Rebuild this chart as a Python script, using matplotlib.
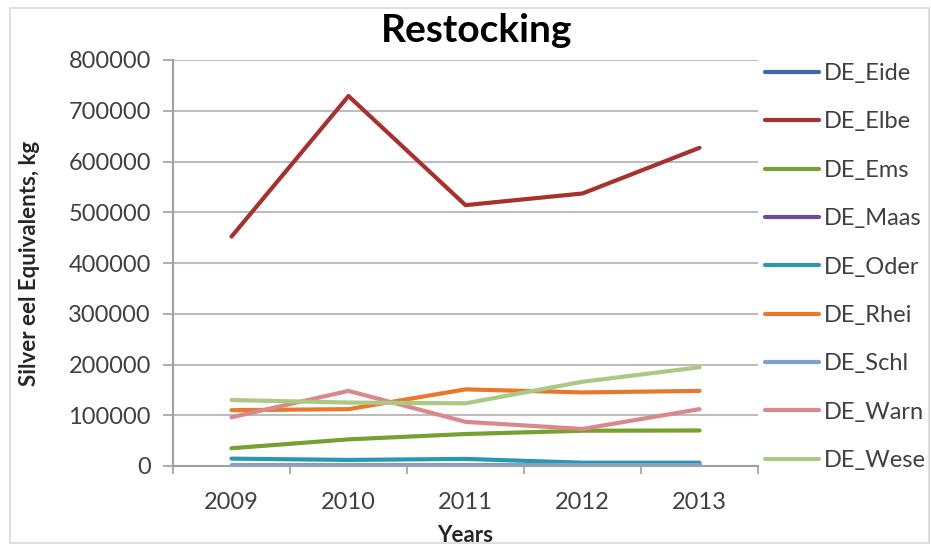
import matplotlib
matplotlib.use("Agg")
import matplotlib.pyplot as plt
from matplotlib.patches import Rectangle

years = ["2009", "2010", "2011", "2012", "2013"]
series_names = ["DE_Eide", "DE_Elbe", "DE_Ems", "DE_Maas", "DE_Oder",
                "DE_Rhei", "DE_Schl", "DE_Warn", "DE_Wese"]
de_eide = [500, 500, 500, 500, 500]
de_elbe = [452000, 729000, 514000, 537000, 627000]
de_ems = [35000, 52500, 63000, 69500, 70000]
de_maas = [300, 300, 300, 300, 300]
de_oder = [14500, 12000, 14000, 6500, 6500]
de_rhei = [110000, 112000, 151000, 145000, 148000]
de_schl = [1500, 1500, 1500, 1500, 1500]
de_warn = [96000, 148000, 87000, 73000, 112000]
de_wese = [130000, 125000, 123500, 166000, 194500]
yticks = [0, 100000, 200000, 300000, 400000, 500000, 600000, 700000, 800000]

colors = ["#3B68A8", "#A6312E", "#78A030", "#6A4C99", "#2A96B0",
          "#E8782A", "#7E9FD6", "#D9898C", "#A9C985"]
data = [de_eide, de_elbe, de_ems, de_maas, de_oder, de_rhei, de_schl, de_warn, de_wese]

plt.rcParams['font.family'] = ['Lato', 'DejaVu Sans']

W, H = 931, 545
fig = plt.figure(figsize=(W / 100, H / 100), dpi=100)
fig.patches.append(Rectangle((10 / W, 1 - 543 / H), 919 / W, 535 / H,
                             transform=fig.transFigure, fill=False,
                             edgecolor="#D9D9D9", linewidth=1.2))

ax = fig.add_axes([173 / W, 1 - 466 / H, 585 / W, 406 / H])
x = list(range(len(years)))
for name, vals, c in zip(series_names, data, colors):
    ax.plot(x, vals, color=c, linewidth=3, label=name, solid_capstyle='round')

ax.set_xlim(-0.5, len(years) - 0.5)
ax.set_ylim(0, 800000)
ax.set_yticks(yticks)
ax.set_yticklabels([str(v) for v in yticks])
ax.set_xticks(x)
ax.set_xticklabels(years)
ax.set_xticks([i - 0.5 for i in range(len(years) + 1)], minor=True)
ax.tick_params(axis='x', which='major', length=0, pad=19, labelsize=17, labelcolor="#404040")
ax.tick_params(axis='x', which='minor', length=6, width=1.2, color="#A0A0A0", direction='out')
ax.tick_params(axis='y', length=7, width=1.2, color="#A0A0A0", pad=9, labelsize=17, labelcolor="#404040")
ax.grid(axis='y', color="#BDBDBD", linewidth=1.5)
ax.set_axisbelow(True)
for s in ['top', 'right']:
    ax.spines[s].set_visible(False)
ax.spines['left'].set_color("#A0A0A0")
ax.spines['left'].set_linewidth(1.5)
ax.spines['bottom'].set_color("#A0A0A0")
ax.spines['bottom'].set_linewidth(1.5)

ax.set_xlabel("Years", fontsize=16, fontweight='bold', color="#262626", labelpad=0)
ax.xaxis.set_label_coords(0.5, -0.145)
ax.set_ylabel("Silver eel Equivalents, kg", fontsize=16, fontweight='bold', color="#262626")
ax.yaxis.set_label_coords(-0.228, 0.5)

fig.text(477 / W, 1 - 30 / H, "Restocking", fontsize=28, fontweight='bold',
         ha='center', va='center', color="#000000")

leg = ax.legend(loc='upper left', bbox_to_anchor=(765 / W, 1 - 63 / H),
                bbox_transform=fig.transFigure, frameon=False, fontsize=17,
                handlelength=2.3, handletextpad=0.2, labelspacing=1.16,
                borderaxespad=0, borderpad=0)
for t in leg.get_texts():
    t.set_color("#404040")

fig.savefig("out.png", dpi=100)
